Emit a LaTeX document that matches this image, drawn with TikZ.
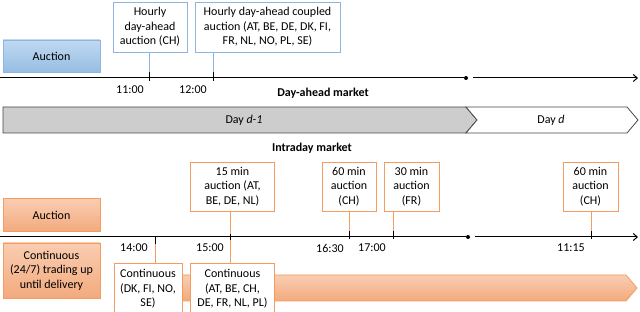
\documentclass[tikz,border=0pt]{standalone}
\usepackage{fontspec}
\setmainfont{Carlito}
\usetikzlibrary{arrows.meta,positioning}

\definecolor{blueline}{RGB}{143,180,227}
\definecolor{bluetop}{RGB}{192,217,240}
\definecolor{bluebot}{RGB}{150,190,228}
\definecolor{orangeline}{RGB}{244,155,95}
\definecolor{orangetop}{RGB}{249,205,178}
\definecolor{orangebot}{RGB}{243,170,125}
\definecolor{daygray}{RGB}{205,205,205}
\definecolor{dayline}{RGB}{70,70,70}

\begin{document}
\begin{tikzpicture}[
    x=1pt, y=-1pt,
    every node/.style={align=center, font=\fontsize{12}{14.5}\selectfont, inner sep=0pt},
    bluebox/.style={rectangle, draw=blueline, fill=white, line width=0.8pt},
    orangebox/.style={rectangle, draw=orangeline, fill=white, line width=0.8pt},
    blueshade/.style={rectangle, draw=blueline, line width=0.8pt,
        top color=bluetop, bottom color=bluebot},
    orangeshade/.style={draw=orangeline, line width=0.8pt,
        top color=orangetop, bottom color=orangebot},
    axis/.style={line width=1pt, black},
    tick/.style={line width=0.8pt, black},
    bluelink/.style={line width=0.8pt, blueline},
    orangelink/.style={line width=0.8pt, orangeline},
    dot/.style={circle, fill=black, minimum size=4pt},
    market/.style={font=\fontsize{12}{14.5}\selectfont\bfseries}
]
\useasboundingbox (0,0) rectangle (640,312);

% day-ahead market
\node[blueshade, minimum width=97pt, minimum height=32pt] (auctionDA) at (51.5,56) {Auction};
\node[bluebox, minimum width=74pt, minimum height=50pt] (hourlyCH) at (150,27)
    {Hourly\\day-ahead\\auction (CH)};
\node[bluebox, minimum width=145pt, minimum height=50pt] (hourlyCP) at (267.5,27)
    {Hourly day-ahead coupled\\auction (AT, BE, DE, DK, FI,\\FR, NL, NO, PL, SE)};

\coordinate (daStart) at (0,78);
\node[dot] (daDot) at (466,78) {};
\coordinate (daEnd) at (638,78);
\draw[axis] (daStart) -- (daDot);
\draw[axis, -{Straight Barb[length=4pt,width=7pt]}] ([xshift=5pt]daDot.east) -- (daEnd);

\coordinate (t11) at (149,78);
\coordinate (t12) at (213,78);
\draw[bluelink] (hourlyCH.south -| t11) -- (t11);
\draw[bluelink] (hourlyCP.south -| t12) -- (t12);
\draw[tick] ([yshift=-3pt]t11) -- ([yshift=6pt]t11);
\draw[tick] ([yshift=-3pt]t12) -- ([yshift=6pt]t12);
\node (l11) at (130,90) {11:00};
\node (l12) at (193,90) {12:00};

\node[market] (damarket) at (323,93) {Day-ahead market};

% days
\draw[dayline, line width=0.8pt, fill=daygray]
    (3,107) -- (466,107) -- (477,120) -- (466,133) -- (3,133) -- cycle;
\draw[dayline, line width=0.8pt, fill=white]
    (466,107) -- (627,107) -- (638,120) -- (627,133) -- (466,133) -- (477,120) -- cycle;
\node (dayPrev) at (244,120) {Day \textit{d-1}};
\node (dayD) at (551,120) {Day \textit{d}};

% intraday market
\node[market] (idmarket) at (312,148) {Intraday market};

\node[orangeshade, rectangle, minimum width=97pt, minimum height=33pt] (auctionID) at (51.5,215) {Auction};
\node[orangeshade, rectangle, minimum width=97pt, minimum height=55pt] (contID) at (51.5,270.5)
    {Continuous\\(24/7) trading up\\until delivery};

\draw[orangeshade] (150,275) -- (626,275) -- (637,288) -- (626,301) -- (150,301) -- cycle;

\node[orangebox, minimum width=84pt, minimum height=49pt] (auc15) at (232.5,186.5)
    {15 min\\auction (AT,\\BE, DE, NL)};
\node[orangebox, minimum width=54pt, minimum height=49pt] (auc60) at (349,186.5)
    {60 min\\auction\\(CH)};
\node[orangebox, minimum width=55pt, minimum height=49pt] (auc30) at (411.5,186.5)
    {30 min\\auction\\(FR)};
\node[orangebox, minimum width=55pt, minimum height=49pt] (auc60d) at (590.5,186.5)
    {60 min\\auction\\(CH)};

\node[orangebox, minimum width=68pt, minimum height=52pt] (contN) at (148,289)
    {Continuous\\(DK, FI, NO,\\SE)};
\node[orangebox, minimum width=84pt, minimum height=52pt] (contC) at (232.5,289)
    {Continuous\\(AT, BE, CH,\\DE, FR, NL, PL)};

\coordinate (idStart) at (0,237);
\node[dot] (idDot) at (468,237) {};
\coordinate (idEnd) at (638,237);

\coordinate (t14) at (155,237);
\coordinate (t15) at (230,237);
\coordinate (t1630) at (349,237);
\coordinate (t17) at (393,237);
\coordinate (t1115) at (591,237);

\draw[orangelink] (t14) -- (contN.north -| t14);
\draw[orangelink] (auc15.south -| t15) -- (contC.north -| t15);
\draw[orangelink] (auc60.south -| t1630) -- (t1630);
\draw[orangelink] (auc30.south -| t17) -- (t17);
\draw[orangelink] (auc60d.south -| t1115) -- (t1115);

\draw[axis] (idStart) -- (idDot);
\draw[axis, -{Straight Barb[length=4pt,width=7pt]}] ([xshift=5pt]idDot.east) -- (idEnd);

\draw[tick] ([yshift=-7pt]t14) -- (t14);
\draw[tick] ([yshift=-3pt]t15) -- ([yshift=3pt]t15);
\foreach \t in {t1630,t17,t1115}
    \draw[tick] ([yshift=-2pt]\t) -- ([yshift=6pt]\t);

\node (l14) at (134,248) {14:00};
\node (l15) at (210,248) {15:00};
\node (l1630) at (330,248) {16:30};
\node (l17) at (372,248) {17:00};
\node (l1115) at (571,248) {11:15};
\end{tikzpicture}
\end{document}
